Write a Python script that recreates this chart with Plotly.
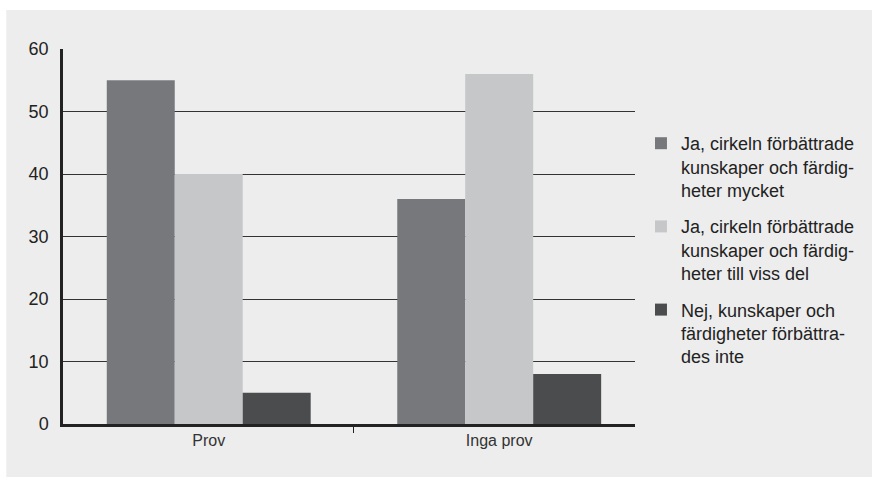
import plotly.graph_objects as go

categories = ["Prov", "Inga prov"]
series_names = [
    "Ja, cirkeln förbättrade<br>kunskaper och färdig-<br>heter mycket",
    "Ja, cirkeln förbättrade<br>kunskaper och färdig-<br>heter till viss del",
    "Nej, kunskaper och<br>färdigheter förbättra-<br>des inte",
]
values_mycket = [55, 36]
values_viss = [40, 56]
values_inte = [5, 8]
colors = ["#77787b", "#c6c7c9", "#4b4c4e"]
y_ticks = [0, 10, 20, 30, 40, 50, 60]

W, H = 872, 477
L, R, T, B = 63, 872 - 638, 49, 477 - 424
pw, ph = W - L - R, H - T - B

fig = go.Figure()
for name, vals, col in zip(series_names, [values_mycket, values_viss, values_inte], colors):
    fig.add_trace(go.Bar(x=categories, y=vals, name=name, marker=dict(color=col, line=dict(width=0)),
                         legendgroup=name))

# invisible trace on overlay axis for the middle category-separator tick
fig.add_trace(go.Scatter(x=[0.5], y=[0], xaxis="x2", yaxis="y", mode="markers",
                         marker=dict(opacity=0), showlegend=False, hoverinfo="skip"))

xr = [-0.5017, 1.4675]
fig.update_layout(
    width=W, height=H,
    margin=dict(l=L, r=R, t=T, b=B),
    paper_bgcolor="white",
    plot_bgcolor="rgba(0,0,0,0)",
    barmode="group", bargap=0.298, bargroupgap=0,
    font=dict(family="Liberation Sans, Arial, sans-serif", color="#222"),
    xaxis=dict(range=xr, showline=True, linewidth=3, linecolor="#222", showgrid=False,
               ticks="", tickfont=dict(size=16, color="#333"), zeroline=False, fixedrange=True),
    xaxis2=dict(range=xr, overlaying="x", side="bottom", tickmode="array", tickvals=[0.5],
                ticks="outside", ticklen=8, tickwidth=1, tickcolor="#222", showticklabels=False,
                showline=False, showgrid=False, zeroline=False),
    yaxis=dict(range=[0, 60], tickvals=y_ticks, showline=True, linewidth=2.5, linecolor="#222",
               showgrid=True, gridcolor="#333", gridwidth=1, zeroline=False, ticks="",
               tickfont=dict(size=18, color="#222"), ticklabelstandoff=8),
    legend=dict(x=(644 - L) / pw, y=(424 - 125) / ph, xanchor="left", yanchor="top",
                font=dict(size=18, color="#222"), bgcolor="rgba(0,0,0,0)",
                traceorder="grouped", tracegroupgap=10, valign="top"),
    shapes=[dict(type="rect", xref="paper", yref="paper", layer="below",
                 x0=(6 - L) / pw, x1=(W - L) / pw + 0.05, y0=-B / ph - 0.05, y1=(424 - 10) / ph,
                 fillcolor="#ededed", line=dict(width=0))],
)

fig.write_html("out.html", config={"displayModeBar": False},
               post_script="document.body.style.margin='0';document.body.style.overflow='hidden';")
